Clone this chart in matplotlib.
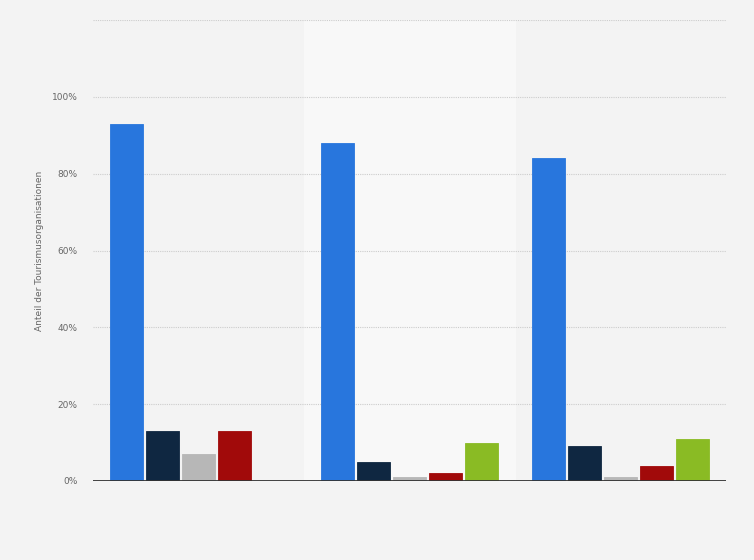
import numpy as np
import matplotlib.pyplot as plt

groups = ['2017', '2018', '2019']
series_names = ['A', 'B', 'C', 'D', 'E']
blue = [93, 88, 84]
navy = [13, 5, 9]
grey = [7, 1, 1]
red = [13, 2, 4]
green = [0, 10, 11]
values = [blue, navy, grey, red, green]
colors = ['#2876dd', '#0f2741', '#b7b7b7', '#a10a0a', '#8abb24']

yticks = [0, 20, 40, 60, 80, 100, 120]
ytick_labels = ['0%', '20%', '40%', '60%', '80%', '100%', '']

fig = plt.figure(figsize=(7.54, 5.6), dpi=100, facecolor='#f3f3f3')
ax = fig.add_axes([93 / 754, 79 / 560, 633 / 754, 461 / 560])
ax.set_facecolor('#f3f3f3')

x = np.arange(len(groups))
width = 0.156
step = 0.171
for i, (vals, c) in enumerate(zip(values, colors)):
    pos = x + (i - 2) * step
    ax.bar(pos, vals, width, color=c, edgecolor=c, linewidth=0.6, zorder=3)

# lighter band behind the middle group
ax.axvspan(0.5, 1.5, color='#f8f8f8', zorder=0)

ax.set_xlim(-0.5, 2.5)
ax.set_ylim(0, 120)
ax.set_yticks(yticks)
ax.set_yticklabels(ytick_labels, fontsize=6.5, color='#666666')
ax.set_xticks([])
ax.grid(axis='y', color='#cccccc', linestyle=(0, (1, 1)), linewidth=0.8, zorder=1)
ax.tick_params(axis='y', length=0, pad=11)
for s in ax.spines.values():
    s.set_visible(False)
ax.axhline(0, color='#333333', linewidth=1.3, zorder=4)

ax.set_ylabel('Anteil der Tourismusorganisationen', fontsize=6.5, color='#666666', labelpad=6)

fig.savefig('out.png', dpi=100, facecolor=fig.get_facecolor())
